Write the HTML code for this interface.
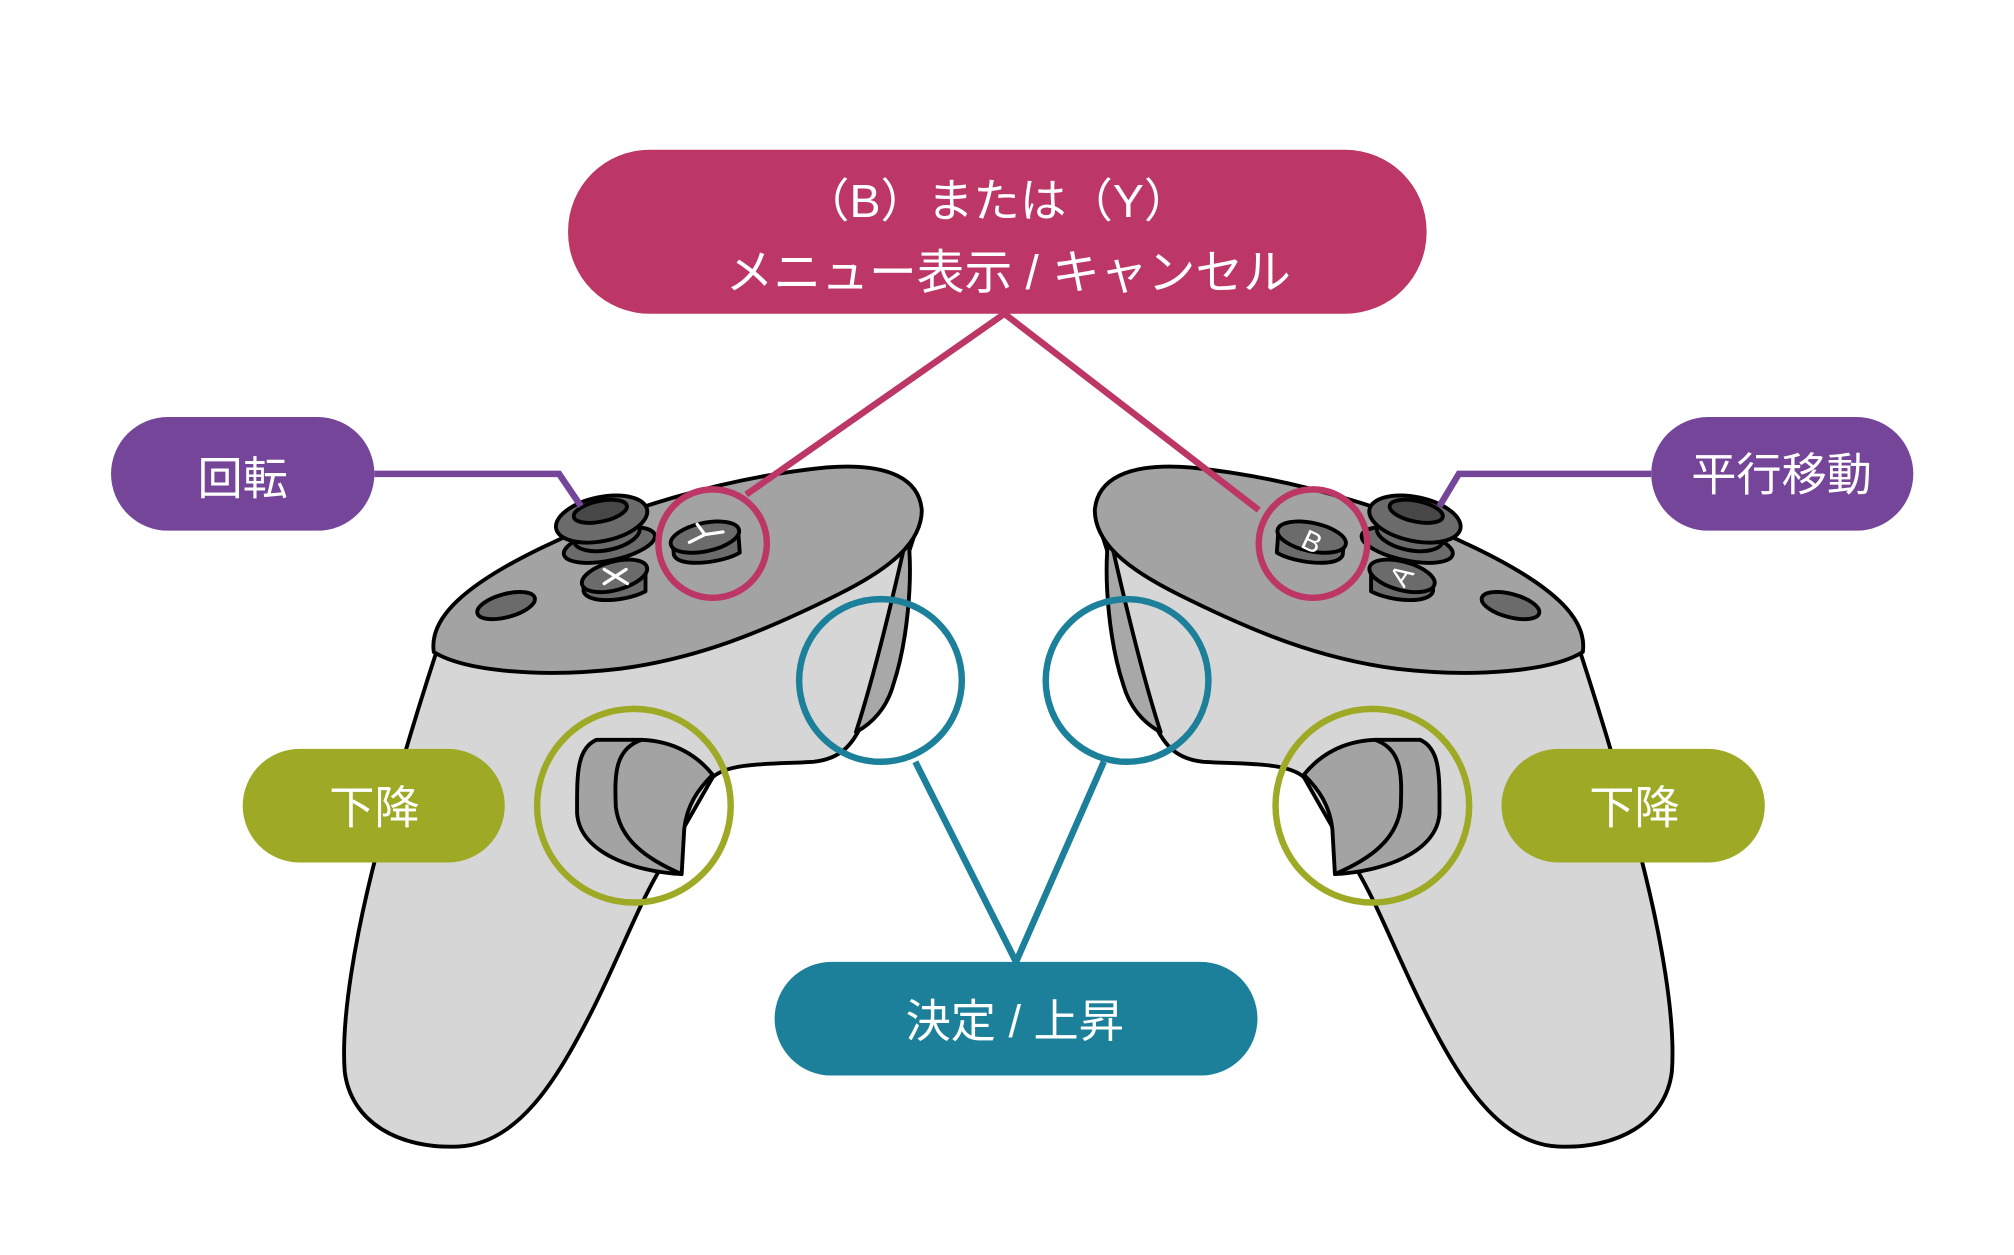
<!DOCTYPE html>
<html><head><meta charset="utf-8"><style>
html,body{margin:0;padding:0;background:#fff}
svg{display:block}
text{font-family:"Liberation Sans","Noto Sans CJK JP",sans-serif;fill:#fff}
</style></head><body>
<svg width="2014" height="1255" viewBox="0 0 1560 972" preserveAspectRatio="none" xmlns="http://www.w3.org/2000/svg">
<defs>
<g id="ctrl" stroke="#000" stroke-width="3" stroke-linejoin="round">
  <path d="M338,505 C325,545 308,600 292,660 C275,725 264,790 267,830 C272,870 310,890 355,888 C400,886 430,840 460,780 C480,740 495,700 512,672 L552,602 C565,590 600,592 630,590 C650,588 660,578 668,560 L700,440 L713,400 Z" fill="#d6d6d6"/>
  <path d="M703,412 C708,450 702,500 692,530 C687,548 676,560 663,567 C675,530 690,470 703,412 Z" fill="#a8a8a8"/>
  <path d="M336,505 C332,478 362,452 420,424 C480,395 560,370 640,362 C690,358 712,372 714,395 C714,420 690,440 650,460 C590,490 540,510 480,518 C420,525 360,520 336,505 Z" fill="#a3a3a3"/>
  <path d="M462,573 C446,580 447,602 447,630 C449,660 490,675 528,677 L530,642 C532,624 540,612 552,600 C540,585 522,574 497,573 Z" fill="#a3a3a3"/>
  <path d="M497,573 C476,580 476,600 477,625 C480,650 500,665 528,677" fill="none"/>
  <ellipse cx="392" cy="469" rx="23" ry="9" transform="rotate(-15 392 469)" fill="#6b6b6b"/>
  <ellipse cx="472" cy="422" rx="36" ry="12" transform="rotate(-12 472 422)" fill="#6b6b6b"/>
  <ellipse cx="470" cy="414" rx="26" ry="12" transform="rotate(-12 470 414)" fill="#6b6b6b"/>
  <ellipse cx="466" cy="402" rx="36" ry="17" transform="rotate(-12 466 402)" fill="#6b6b6b"/>
  <ellipse cx="465" cy="396" rx="21" ry="8" transform="rotate(-12 465 396)" fill="#474747"/>
  <path d="M452,448 L452,458 C455,468 485,466 500,458 L500,444 Z" fill="#6b6b6b"/>
  <ellipse cx="476" cy="446" rx="26" ry="11" transform="rotate(-15 476 446)" fill="#6b6b6b"/>
  <path d="M521,420 L522,430 C526,440 560,436 573,428 L572,414 Z" fill="#6b6b6b"/>
  <ellipse cx="546" cy="416" rx="27" ry="11" transform="rotate(-12 546 416)" fill="#6b6b6b"/>
</g>
</defs>
<g fill="none" stroke-width="5">
  <path d="M709,590 L787,745 L855,590" stroke="#1c809a"/>
</g>
<use href="#ctrl"/>
<use href="#ctrl" transform="translate(1562,0) scale(-1,1)"/>
<g fill="none" stroke-width="5">
  <path d="M778,243 L578,383" stroke="#bd3766"/>
  <path d="M778,243 L975,395" stroke="#bd3766"/>
  <path d="M290,367 L433,367 L450,392" stroke="#744598"/>
  <path d="M1279,367 L1130,367 L1115,392" stroke="#744598"/>
</g>
<g fill="none" stroke="#fff" stroke-width="2.5" stroke-linecap="round">
  <path d="M468,441 L486,452 M485,441 L468,452"/>
  <path d="M534,420 L546,414 L560,412 M546,414 L540,406"/>
</g>
<text x="1016" y="427" font-size="22" transform="rotate(25 1016 420)" text-anchor="middle" style="fill:#fff">B</text>
<text x="1086" y="453" font-size="22" transform="rotate(-55 1086 446)" text-anchor="middle" style="fill:#fff">A</text>
<g fill="none" stroke-width="5">
  <circle cx="552" cy="421" r="42" stroke="#bd3766"/>
  <circle cx="1017" cy="421" r="42" stroke="#bd3766"/>
  <circle cx="491" cy="624" r="75" stroke="#9eaa26"/>
  <circle cx="1063" cy="624" r="75" stroke="#9eaa26"/>
  <circle cx="682" cy="527" r="63" stroke="#1c809a"/>
  <circle cx="873" cy="527" r="63" stroke="#1c809a"/>
</g>
<rect x="440" y="116" width="665" height="127" rx="63" fill="#bd3766"/>
<text x="772" y="168" font-size="36" text-anchor="middle">（B）または（Y）</text>
<text x="781" y="224" font-size="37" text-anchor="middle">メニュー表示 / キャンセル</text>
<rect x="86" y="323" width="204" height="88" rx="44" fill="#744598"/>
<text x="188" y="383" font-size="35" text-anchor="middle">回転</text>
<rect x="1279" y="323" width="203" height="88" rx="44" fill="#744598"/>
<text x="1380" y="380" font-size="35" text-anchor="middle">平行移動</text>
<rect x="188" y="580" width="203" height="88" rx="44" fill="#9eaa26"/>
<text x="290" y="638" font-size="35" text-anchor="middle">下降</text>
<rect x="1163" y="580" width="204" height="88" rx="44" fill="#9eaa26"/>
<text x="1266" y="638" font-size="35" text-anchor="middle">下降</text>
<rect x="600" y="745" width="374" height="88" rx="44" fill="#1c809a"/>
<text x="786" y="803" font-size="35" text-anchor="middle">決定 / 上昇</text>
</svg>
</body></html>
